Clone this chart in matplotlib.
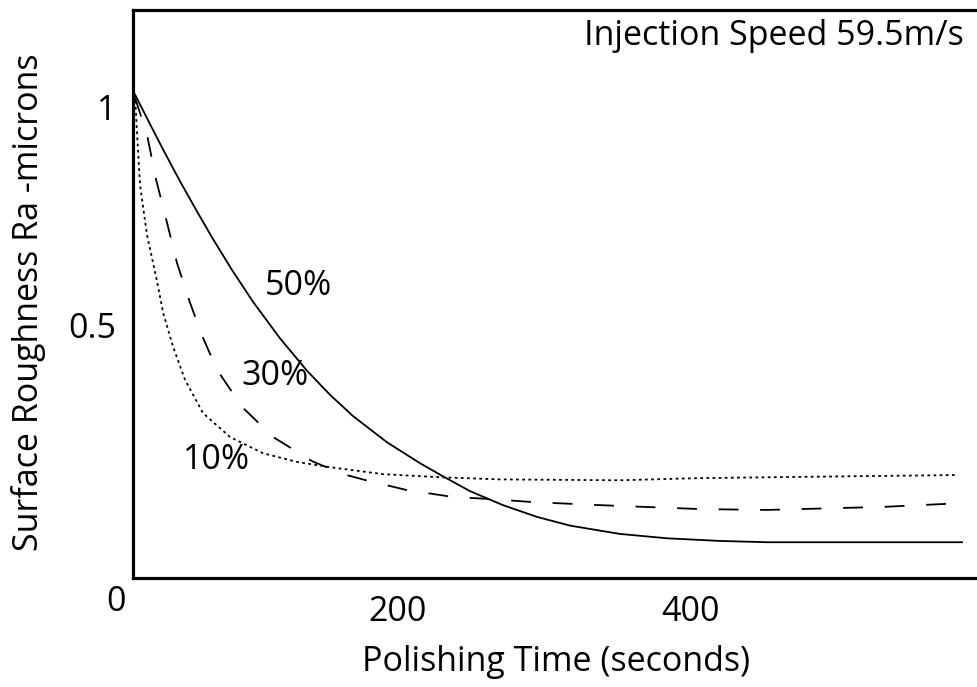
import numpy as np
import matplotlib
matplotlib.use("Agg")
import matplotlib.pyplot as plt

plt.rcParams['font.family'] = ['Open Sans', 'DejaVu Sans']

# values (time in s, Ra in microns)
t_50 = [20.5, 30.8, 39.7, 51.3, 62.9, 73.8, 86.8, 101.2, 119.7, 138.1, 153.8, 169.6, 192.8,
        215.4, 231.1, 249.6, 272.1, 295.4, 318.0, 352.1, 384.3, 420, 452.6, 586]
ra_50 = [1.028, 0.960, 0.902, 0.829, 0.760, 0.697, 0.626, 0.553, 0.469, 0.395, 0.340, 0.291, 0.231,
         0.183, 0.153, 0.119, 0.087, 0.060, 0.040, 0.021, 0.011, 0.005, 0.002, 0.002]

t_30 = [20.5, 28.7, 34.9, 42.4, 49.2, 58, 66, 76.6, 94, 115, 142, 164, 178.5, 205.8, 237.3,
        263.2, 292.6, 338.5, 406.8, 452.6, 532, 588]
ra_30 = [1.021, 0.936, 0.833, 0.734, 0.642, 0.552, 0.478, 0.397, 0.311, 0.243, 0.187, 0.157, 0.144,
         0.122, 0.106, 0.101, 0.094, 0.087, 0.078, 0.076, 0.083, 0.092]

t_10 = [20.5, 21.9, 23.9, 28.7, 35.6, 39.7, 46.5, 54.7, 67.0, 85.5, 108.0, 131.3, 153.8, 190.1,
        229.1, 270.1, 352, 406.8, 581.2]
ra_10 = [1.028, 0.936, 0.821, 0.706, 0.599, 0.528, 0.450, 0.374, 0.298, 0.243, 0.206, 0.186, 0.174,
         0.158, 0.151, 0.146, 0.144, 0.149, 0.156]

fs = 24.5

fig = plt.figure(figsize=(9.77, 6.87), dpi=100)
ax = fig.add_axes([133 / 977, 1 - 578 / 687, 1 - 133 / 977, (578 - 10) / 687])

ax.plot(t_50, ra_50, color='black', lw=1.3)
ax.plot(t_30, ra_30, color='black', lw=1.3, dashes=(11, 12))
ax.plot(t_10, ra_10, color='black', lw=1.3, dashes=(1.5, 1.9))

ax.text(132, 0.589, '50%', fontsize=fs, ha='center', va='center')
ax.text(116, 0.383, '30%', fontsize=fs, ha='center', va='center')
ax.text(76, 0.19, '10%', fontsize=fs, ha='center', va='center')
ax.text(0.984, 0.955, 'Injection Speed 59.5m/s', transform=ax.transAxes,
        fontsize=fs, ha='right', va='center')

ax.set_xlim(19.1, 596.2)
ax.set_ylim(-0.08, 1.222)
ax.set_xticks([200, 400])
ax.set_xticklabels(['200', '400'])
ax.set_yticks([0.5, 1])
ax.set_yticklabels(['0.5', '1'])
ax.tick_params(length=0, labelsize=fs)
ax.tick_params(axis='x', pad=12)
ax.tick_params(axis='y', pad=12)
ax.text(-0.02, -0.042, '0', transform=ax.transAxes, fontsize=fs, ha='center', va='center')

for s in ['left', 'top', 'bottom']:
    ax.spines[s].set_linewidth(2.3)
ax.spines['right'].set_visible(False)

fig.text(556 / 977, 1 - 662 / 687, 'Polishing Time (seconds)', fontsize=fs, ha='center', va='center')
fig.text(29 / 977, 1 - 302 / 687, 'Surface Roughness Ra -microns', fontsize=fs,
         ha='center', va='center', rotation=90)

fig.savefig('out.png', dpi=100)
